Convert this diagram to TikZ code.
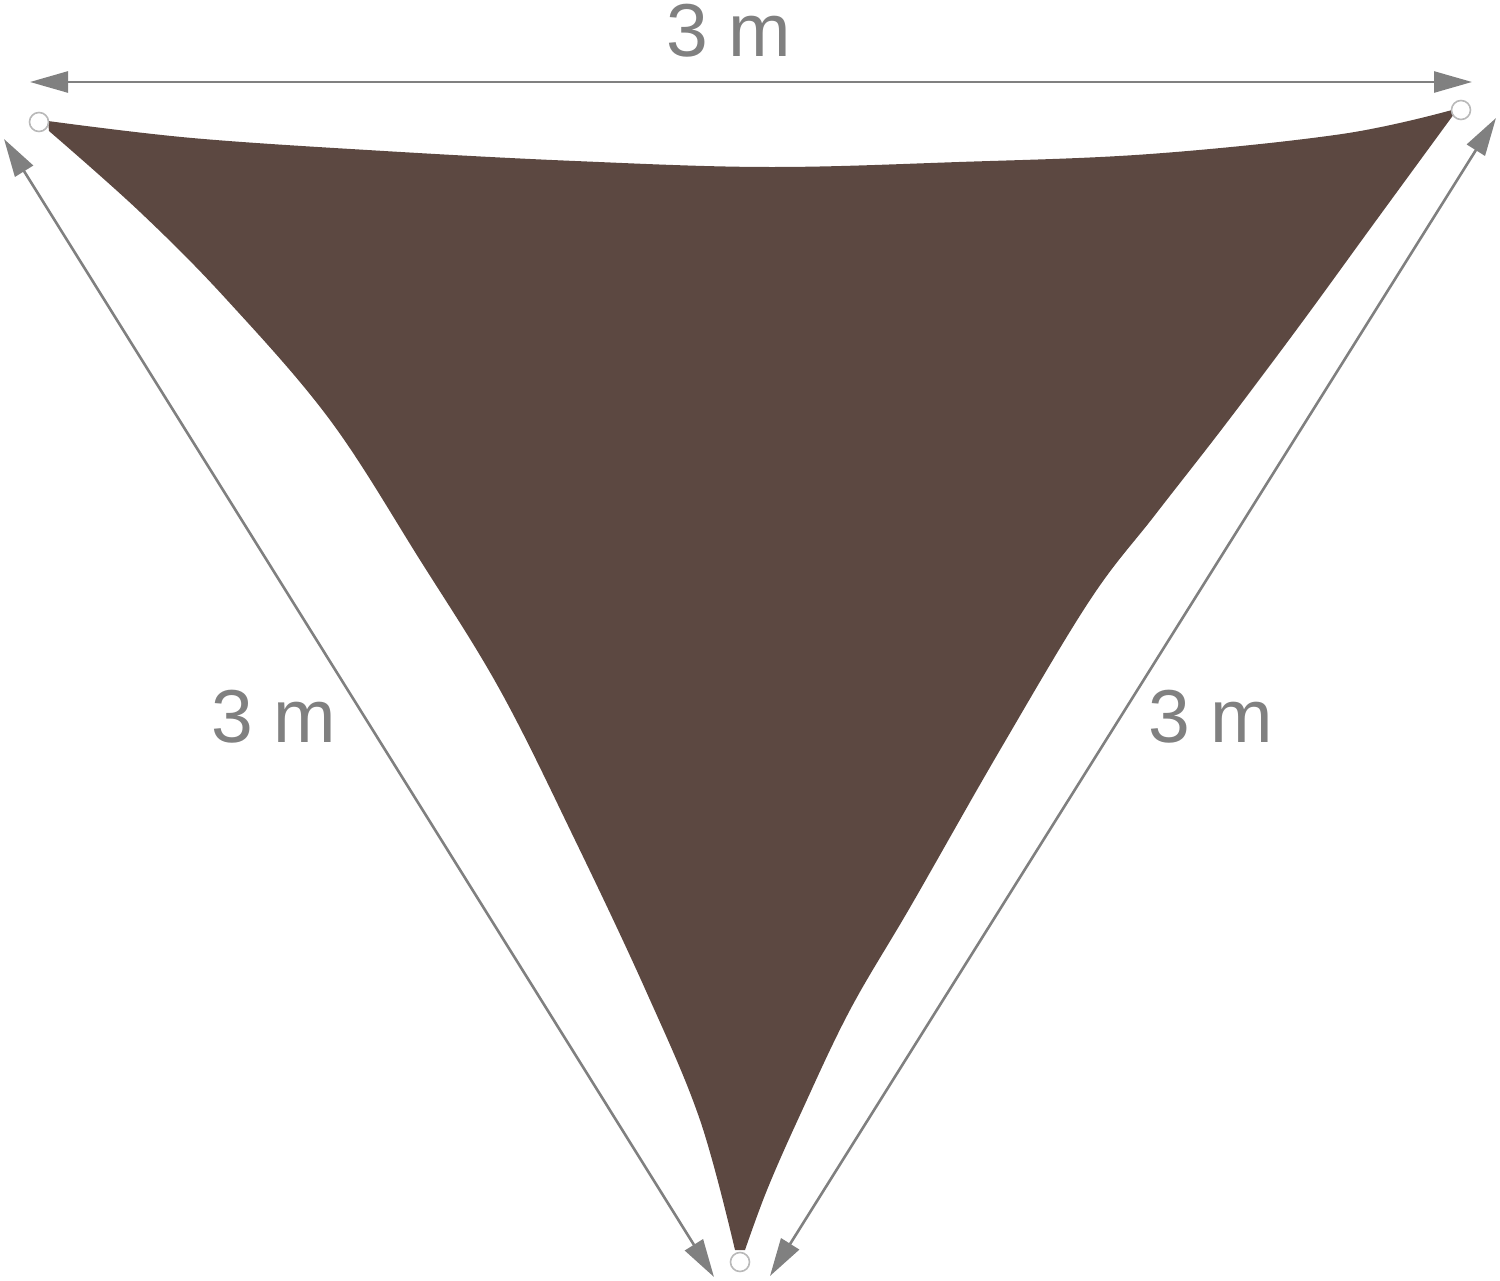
\documentclass[tikz,border=0pt]{standalone}
\usepackage{fontspec}
\setmainfont{Liberation Sans}
\usetikzlibrary{arrows.meta}
\definecolor{sail}{RGB}{92,72,65}
\definecolor{dimgray}{RGB}{128,128,128}
\definecolor{ringgray}{RGB}{185,185,185}
\begin{document}
\begin{tikzpicture}[x=1pt,y=-1pt,
  dimline/.style={draw=dimgray, line width=2.6pt,
    {Triangle[length=38pt,width=21pt]}-{Triangle[length=38pt,width=21pt]}},
  dimlabel/.style={text=dimgray, font=\fontsize{75}{90}\selectfont, inner sep=0pt, anchor=base},
  grommet/.style={draw=ringgray, line width=1.6pt, fill=white, circle, minimum size=19pt, inner sep=0pt}]
\useasboundingbox (0,0) rectangle (1500,1281);

% sail
\fill[sail]
  plot[smooth, tension=0.6] coordinates {(48,121) (192,138) (384,151) (575,161) (767,167) (959,162) (1150,154) (1342,134) (1452,110)}
  -- plot[smooth, tension=0.6] coordinates {(1454,114) (1375,222) (1300,325) (1225,425) (1155,515) (1090,600) (1000,750) (912,904) (850,1010) (800,1115) (767,1190) (745,1250)}
  -- plot[smooth, tension=0.6] coordinates {(735,1250) (700,1120) (646,991) (575,840) (500,690) (420,560) (330,420) (227,300) (140,212) (49,131)}
  -- cycle;

% grommets
\node[grommet] (gA) at (39,122) {};
\node[grommet] (gB) at (1461,110) {};
\node[grommet] (gC) at (740,1262) {};

% dimension lines
\coordinate (tl) at (30,82);
\coordinate (tr) at (1472,82);
\coordinate (ll) at (4,139);
\coordinate (lb) at (714,1277);
\coordinate (rr) at (1496,118);
\coordinate (rb) at (770,1276);
\draw[dimline] (tl) -- (tr);
\draw[dimline] (ll) -- (lb);
\draw[dimline] (rr) -- (rb);

% labels
\node[dimlabel] (top) at (729,57) {3 m};
\node[dimlabel] (left) at (274,742) {3 m};
\node[dimlabel] (right) at (1211,742) {3 m};
\end{tikzpicture}
\end{document}
